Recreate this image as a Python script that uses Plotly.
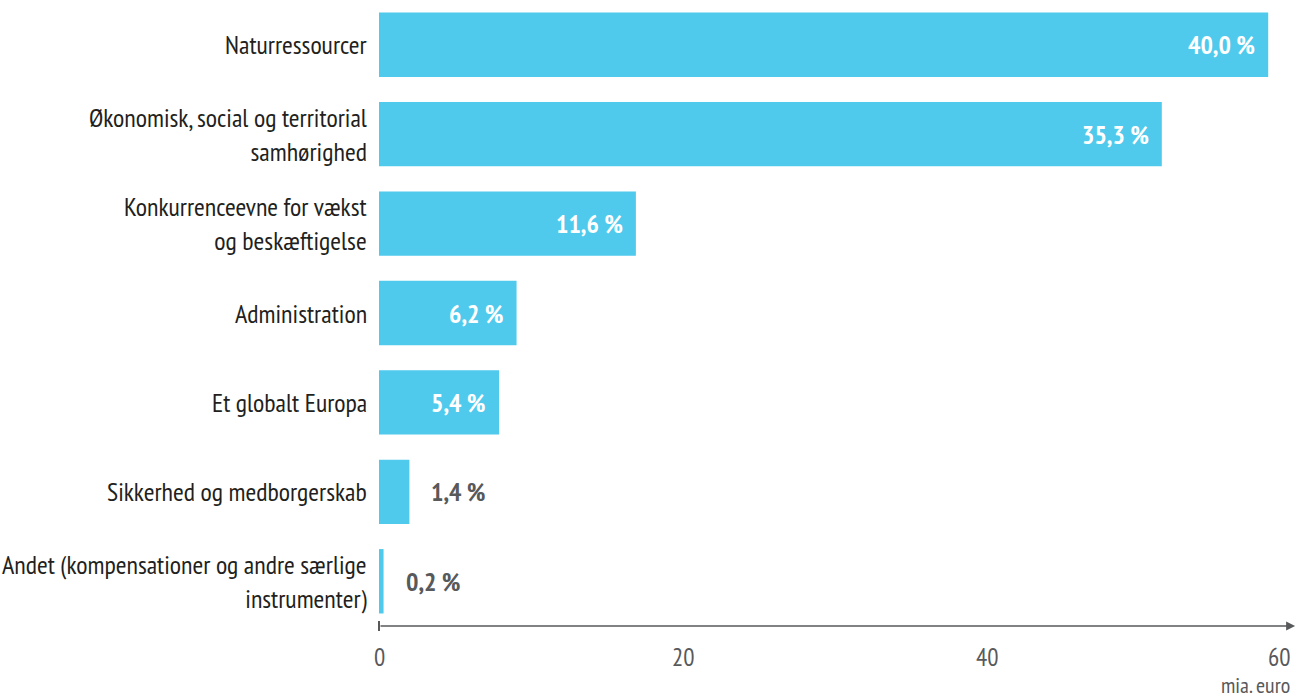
import plotly.graph_objects as go

categories = [
    "Naturressourcer",
    "Økonomisk, social og territorial<br>samhørighed",
    "Konkurrenceevne for vækst<br>og beskæftigelse",
    "Administration",
    "Et globalt Europa",
    "Sikkerhed og medborgerskab",
    "Andet (kompensationer og andre særlige<br>instrumenter)",
]
amounts = [58.5, 51.5, 16.9, 9.05, 7.9, 2.0, 0.3]
pct_labels = ["40,0 %", "35,3 %", "11,6 %", "6,2 %", "5,4 %", "1,4 %", "0,2 %"]
inside = [True, True, True, True, True, False, False]
x_ticks = [0, 20, 40, 60]
x_title = "mia. euro"

FONT = "PT Sans Narrow, Roboto Condensed, DejaVu Sans Condensed, sans-serif"
BAR = "#4fcaec"
AXIS = "#58595b"
TEXT = "#231f20"

fig = go.Figure(go.Bar(
    y=categories, x=amounts, orientation="h",
    marker=dict(color=BAR, line=dict(width=0)),
    width=0.72, hoverinfo="skip",
))

annotations = []
# category labels
for c in categories:
    annotations.append(dict(
        x=0, y=c, xref="x", yref="y", text=c, showarrow=False, align="right",
        xanchor="right", yanchor="middle", xshift=-10,
        font=dict(family=FONT, size=26, color=TEXT),
    ))
# value labels
for c, a, p, ins in zip(categories, amounts, pct_labels, inside):
    annotations.append(dict(
        x=a, y=c, xref="x", yref="y", text=f"<b>{p}</b>", showarrow=False,
        xanchor="right" if ins else "left", xshift=-11 if ins else 20,
        font=dict(family=FONT, size=26, color="white" if ins else AXIS),
    ))
# x tick labels
for i, t in enumerate(x_ticks):
    last = i == len(x_ticks) - 1
    annotations.append(dict(
        x=t, y=0, xref="x", yref="paper", yanchor="middle", yshift=-31, borderpad=0,
        text=str(t), showarrow=False,
        xanchor="right" if last else "center", xshift=1 if last else 0,
        font=dict(family=FONT, size=25, color=AXIS),
    ))
annotations.append(dict(
    x=1, y=0, xref="paper", yref="paper", yanchor="middle", yshift=-59, xanchor="right", xshift=0,
    borderpad=0, text=x_title, showarrow=False, font=dict(family=FONT, size=22, color=AXIS),
))
# axis arrow
annotations.append(dict(
    x=1.0045, y=0, xref="x domain", yref="y domain", ax=0, ay=0,
    axref="x domain", ayref="y domain",
    text="", showarrow=True, arrowhead=2, arrowsize=1.2, arrowwidth=1.5, arrowcolor=AXIS,
))

fig.update_layout(
    width=1297, height=698,
    margin=dict(l=379, r=6, t=0, b=72),
    paper_bgcolor="white", plot_bgcolor="white",
    showlegend=False, bargap=0.28,
    font=dict(family=FONT, size=26, color=TEXT),
    annotations=annotations,
    shapes=[dict(type="line", xref="paper", yref="paper", x0=0, x1=0, y0=-0.008, y1=0.008,
                 line=dict(color=AXIS, width=2))],
    xaxis=dict(range=[0, 60], showgrid=False, zeroline=False, showticklabels=False,
               showline=False, fixedrange=True, automargin=False),
    yaxis=dict(autorange="reversed", showgrid=False, zeroline=False, showline=False,
               ticks="", showticklabels=False, automargin=False),
)

fig.write_html("out.html")
